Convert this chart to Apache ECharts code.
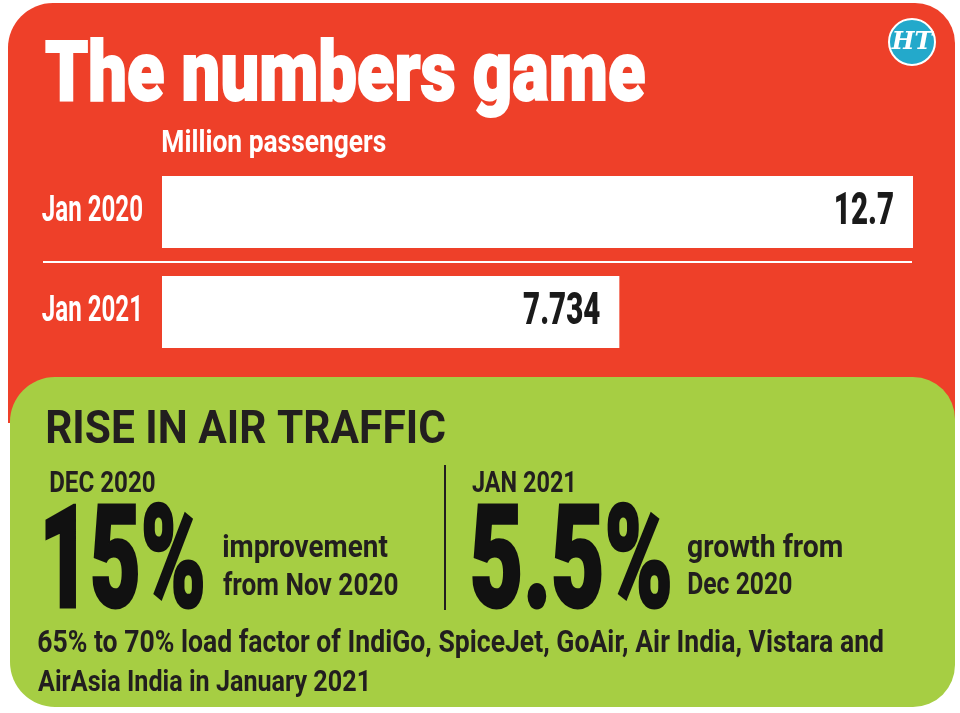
<!DOCTYPE html>
<html>
<head>
<meta charset="utf-8">
<title>The numbers game</title>
<script src="https://cdn.jsdelivr.net/npm/echarts@6/dist/echarts.min.js"></script>
<style>
html, body { margin: 0; padding: 0; background: #fff; }
#main { width: 960px; height: 713px; }
</style>
</head>
<body>
<div id="main"></div>
<script>
var categories = ['Jan 2020', 'Jan 2021']; // months
var passengers = [12.7, 7.734];            // million passengers

var title = 'The numbers game';
var unitText = 'Million passengers';
var riseTitle = 'RISE IN AIR TRAFFIC';
var riseMonths = ['DEC 2020', 'JAN 2021'];
var risePct = ['15%', '5.5%'];
var riseNotes = [['improvement', 'from Nov 2020'], ['growth from', 'Dec 2020']];
var footNote = ['65% to 70% load factor of IndiGo, SpiceJet, GoAir, Air India, Vistara and',
  'AirAsia India in January 2021'];

var RED = '#ee4029';
var GREEN = '#a6ce43';
var INK = '#221e1f';
var FONT = 'Roboto, "Open Sans", "DejaVu Sans", sans-serif';
var CONDENSE = 0.67; // squeeze for the bar labels

var ctx = document.createElement('canvas').getContext('2d');
ctx.textBaseline = 'middle';

// text whose caps run from top to base and whose ink runs from x to x + width
function txt(text, x, top, base, width, color, weight, thick) {
  weight = weight || 'bold';
  ctx.font = weight + ' 100px ' + FONT;
  var h = ctx.measureText('H');
  var size = (base - top) * 100 / (h.actualBoundingBoxAscent + h.actualBoundingBoxDescent);
  ctx.font = weight + ' ' + size + 'px ' + FONT;
  h = ctx.measureText('H');
  var m = ctx.measureText(text);
  var s = width / (m.actualBoundingBoxLeft + m.actualBoundingBoxRight + (thick || 0));
  var style = {
    text: text, fill: color, fontSize: size, fontWeight: weight,
    fontFamily: FONT, align: 'left', verticalAlign: 'middle'
  };
  if (thick) {
    style.stroke = color;
    style.lineWidth = thick;
  }
  return {
    type: 'text',
    x: x + (m.actualBoundingBoxLeft + (thick || 0) / 2) * s,
    y: top + h.actualBoundingBoxAscent,
    z: 10,
    scaleX: s,
    style: style
  };
}

//bar names and values, placed through the axes
function renderLabels(params, api) {
  var idx = api.value(1);
  var v = api.value(0);
  var start = api.coord([0, idx]);
  var end = api.coord([v, idx]);
  return {
    type: 'group',
    children: [{
      type: 'text',
      x: start[0] - 19,
      y: start[1],
      scaleX: CONDENSE,
      style: {
        text: categories[idx], fill: '#fff', fontSize: 36, fontWeight: 'bold',
        fontFamily: FONT, align: 'right', verticalAlign: 'middle'
      }
    }, {
      type: 'text',
      x: end[0] - 19,
      y: end[1] + 1,
      scaleX: CONDENSE,
      style: {
        text: String(v), fill: '#1a1a1a', fontSize: 44, fontWeight: 900,
        fontFamily: FONT, align: 'right', verticalAlign: 'middle'
      }
    }]
  };
}

var graphics = [
  { type: 'rect', z: 0, shape: { x: 8, y: 3, width: 947, height: 420, r: [45, 40, 0, 0] }, style: { fill: RED } },
  { type: 'rect', z: 1, shape: { x: 10, y: 377, width: 945, height: 330, r: [45, 42, 42, 45] }, style: { fill: GREEN } },
  // HT logo
  { type: 'circle', z: 5, shape: { cx: 912, cy: 42, r: 23 }, style: { fill: '#23a9cb', stroke: '#fff', lineWidth: 2 } },
  {
    type: 'text', z: 6, x: 912, y: 43,
    style: {
      text: 'HT', fill: '#fff', fontSize: 24, fontWeight: 'bold', fontStyle: 'italic',
      fontFamily: '"DejaVu Serif", serif', align: 'center', verticalAlign: 'middle'
    }
  },
  // white rule between the bars
  { type: 'line', z: 3, shape: { x1: 43, y1: 262, x2: 912, y2: 262 }, style: { stroke: '#fff', lineWidth: 2 } },
  // divider in the green panel
  { type: 'line', z: 3, shape: { x1: 445, y1: 465, x2: 445, y2: 610 }, style: { stroke: INK, lineWidth: 2 } },

  txt(title, 45, 40, 100, 600, '#fff', 900, 2),
  txt(unitText, 163, 130, 153, 223, '#fff'),
  txt(riseTitle, 47, 410, 443, 398, INK),
  txt(riseMonths[0], 50, 471, 492, 105, INK),
  txt(riseMonths[1], 472, 471, 492, 101, INK),
  txt(risePct[0], 45, 505, 608, 158, '#111', 900, 3),
  txt(risePct[1], 472, 505, 608, 198, '#111', 900, 3),
  txt(riseNotes[0][0], 223, 535, 558, 165, INK),
  txt(riseNotes[0][1], 223, 573, 595, 175, INK),
  txt(riseNotes[1][0], 688, 535, 557, 154, INK),
  txt(riseNotes[1][1], 688, 572, 594, 104, INK),
  txt(footNote[0], 38, 630, 652, 845, INK),
  txt(footNote[1], 38, 670, 691, 329, INK)
];

var chart = echarts.init(document.getElementById('main'));

var option = {
  animation: false,
  backgroundColor: '#fff',
  graphic: { elements: graphics },
  grid: { left: 162, right: 47, top: 162, height: 200 },
  xAxis: {
    type: 'value',
    min: 0,
    max: 'dataMax',
    show: false
  },
  yAxis: {
    type: 'category',
    data: categories,
    inverse: true,
    axisLine: { show: false },
    axisTick: { show: false },
    axisLabel: { show: false },
    splitLine: { show: false }
  },
  series: [{
    name: 'Million passengers',
    type: 'bar',
    z: 2,
    barWidth: 72,
    itemStyle: { color: '#fff' },
    emphasis: { disabled: true },
    data: passengers
  }, {
    name: 'labels',
    type: 'custom',
    z: 5,
    clip: false,
    silent: true,
    renderItem: renderLabels,
    data: passengers.map(function (v, i) { return [v, i]; })
  }]
};

chart.setOption(option);
</script>
</body>
</html>
